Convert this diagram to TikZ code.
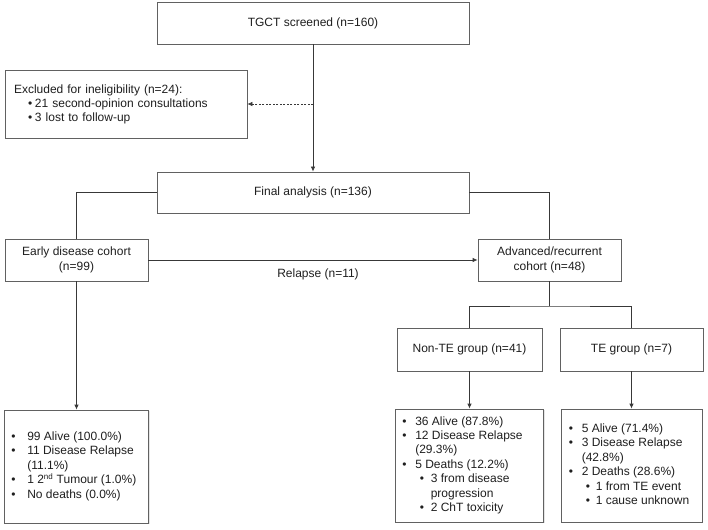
\documentclass[tikz,border=0pt]{standalone}
\usepackage{fontspec}
\setmainfont{Liberation Sans}
\usetikzlibrary{arrows.meta,shadows}
\newcommand{\mbul}[1][13pt]{\makebox[#1][l]{\textbullet}}
\newcommand{\sbul}[2]{\hspace*{#1}\makebox[#2][l]{\textbullet}}
\begin{document}
\begin{tikzpicture}[x=1pt,y=-1pt,
  box/.style={draw=black!62, line width=0.8pt, fill=white, inner sep=0pt, align=center,
    font=\fontsize{12}{15}\selectfont, text=black!88,
    general shadow={fill=black!10, shadow xshift=1.2pt, shadow yshift=-1.2pt}},
  listtxt/.style={inner sep=0pt, anchor=west, text=black!88, font=\fontsize{12}{14}\selectfont},
  conn/.style={draw=black!78, line width=0.8pt},
  arr/.style={conn, -{Latex[length=5pt,width=4.5pt]}},
  lbl/.style={font=\fontsize{12}{14}\selectfont, text=black!88, inner sep=0pt}
]
\fill[white] (0,0) rectangle (708,529);
\useasboundingbox (0,0) rectangle (708,529);

% boxes
\node[box, minimum width=312pt, minimum height=42pt] (tgct) at (313,23) {TGCT screened (n=160)};
\node[box, align=left, inner xsep=9pt, text width=224pt, minimum height=68pt,
  font=\fontsize{12}{14}\selectfont] (excl) at (126,104)
  {Excluded for ineligibility (n=24):\\
   \sbul{14pt}{7pt}21 second-opinion consultations\\
   \sbul{14pt}{7pt}3 lost to follow-up};
\node[box, minimum width=312pt, minimum height=41pt] (final) at (313,192.5) {Final analysis (n=136)};
\node[box, minimum width=143pt, minimum height=42pt] (early) at (76.5,260) {Early disease cohort\\(n=99)};
\node[box, minimum width=143pt, minimum height=42pt] (adv) at (549.5,260) {Advanced/recurrent\\cohort (n=48)};
\node[box, minimum width=145pt, minimum height=43pt] (nonte) at (469.5,349.5) {Non-TE group (n=41)};
\node[box, minimum width=143pt, minimum height=43pt] (te) at (631.5,349.5) {TE group (n=7)};

\node[box, minimum width=144pt, minimum height=113pt] (earlyout) at (76.5,466.5) {};
\node[box, minimum width=148pt, minimum height=113pt] (nonteout) at (469.5,465.5) {};
\node[box, minimum width=141pt, minimum height=113pt] (teout) at (631.5,465.5) {};

\node[listtxt] (earlyout-t) at ([xshift=7pt]earlyout.west)
  {\renewcommand{\arraystretch}{1.03}\begin{tabular}{@{}l@{}}
   \mbul[16pt]99 Alive (100.0\%)\\
   \mbul[16pt]11 Disease Relapse\\
   \hspace*{16pt}(11.1\%)\\
   \mbul[16pt]1 2\textsuperscript{nd} Tumour (1.0\%)\\
   \mbul[16pt]No deaths (0.0\%)
   \end{tabular}};
\node[listtxt] (nonteout-t) at ([xshift=7pt]nonteout.west)
  {\renewcommand{\arraystretch}{1.03}\begin{tabular}{@{}l@{}}
   \mbul 36 Alive (87.8\%)\\
   \mbul 12 Disease Relapse\\
   \hspace*{13pt}(29.3\%)\\
   \mbul 5 Deaths (12.2\%)\\
   \hspace*{13pt}\sbul{4.5pt}{11pt}3 from disease\\
   \hspace*{28.5pt}progression\\
   \hspace*{13pt}\sbul{4.5pt}{11pt}2 ChT toxicity
   \end{tabular}};
\node[listtxt] (teout-t) at ([xshift=8pt]teout.west)
  {\renewcommand{\arraystretch}{1.03}\begin{tabular}{@{}l@{}}
   \mbul 5 Alive (71.4\%)\\
   \mbul 3 Disease Relapse\\
   \hspace*{13pt}(42.8\%)\\
   \mbul 2 Deaths (28.6\%)\\
   \hspace*{13pt}\sbul{4pt}{10pt}1 from TE event\\
   \hspace*{13pt}\sbul{4pt}{10pt}1 cause unknown
   \end{tabular}};

% connectors
\coordinate (dsplit) at (313,104);
\coordinate (asplit) at (549.5,306);
\draw[arr] (tgct.south) -- (final.north);
\draw[conn, line width=0.6pt, dash pattern=on 2pt off 1.5pt, -{Latex[length=5pt,width=4.5pt]}] (dsplit) -- (excl.east);
\draw[conn] (final.west) -| (early.north);
\draw[conn] (final.east) -| (adv.north);
\draw[arr] (early.east) -- (early.east -| adv.west);
\node[lbl] (relapse) at (318,274) {Relapse (n=11)};
\draw[conn] (adv.south) -- (asplit);
\draw[conn] (nonte.north) |- (asplit) -| (te.north);
\draw[arr] (early.south) -- (earlyout.north);
\draw[arr] (nonte.south) -- (nonteout.north);
\draw[arr] (te.south) -- (teout.north);
\end{tikzpicture}
\end{document}
